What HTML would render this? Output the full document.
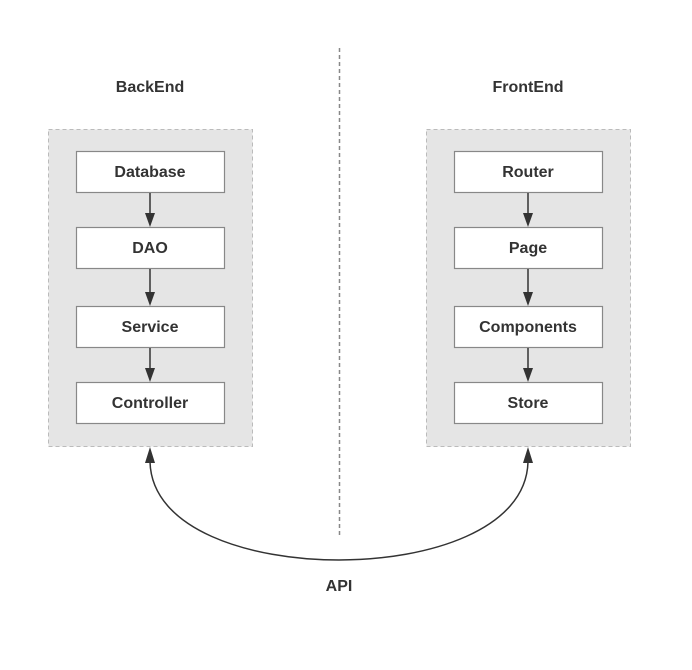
<!DOCTYPE html>
<html><head><style>body{margin:0;background:#fff}</style></head><body>
<svg width="692" height="665" xmlns="http://www.w3.org/2000/svg" font-family="Liberation Sans, sans-serif" font-weight="bold" font-size="16" fill="#333">
<rect width="692" height="665" fill="#fff"/>
<line x1="339.5" y1="48" x2="339.5" y2="535" stroke="#888" stroke-width="1.5" stroke-dasharray="4,3"/>
<text x="150" y="92" text-anchor="middle">BackEnd</text>
<text x="528" y="92" text-anchor="middle">FrontEnd</text>
<rect x="48.5" y="129.5" width="204" height="317" fill="#e5e5e5" stroke="#bbb" stroke-dasharray="4,3"/>
<rect x="426.5" y="129.5" width="204" height="317" fill="#e5e5e5" stroke="#bbb" stroke-dasharray="4,3"/>
<g stroke="#888" stroke-width="1.2" fill="#fff">
<rect x="76.5" y="151.5" width="148" height="41"/><rect x="76.5" y="227.5" width="148" height="41"/>
<rect x="76.5" y="306.5" width="148" height="41"/><rect x="76.5" y="382.5" width="148" height="41"/>
<rect x="454.5" y="151.5" width="148" height="41"/><rect x="454.5" y="227.5" width="148" height="41"/>
<rect x="454.5" y="306.5" width="148" height="41"/><rect x="454.5" y="382.5" width="148" height="41"/>
</g>
<g text-anchor="middle">
<text x="150" y="177">Database</text><text x="150" y="253">DAO</text>
<text x="150" y="332">Service</text><text x="150" y="408">Controller</text>
<text x="528" y="177">Router</text><text x="528" y="253">Page</text>
<text x="528" y="332">Components</text><text x="528" y="408">Store</text>
<text x="339" y="591">API</text>
</g>
<g stroke="#333" stroke-width="1.5">
<line x1="150" y1="193" x2="150" y2="215"/><line x1="150" y1="269" x2="150" y2="294"/><line x1="150" y1="348" x2="150" y2="370"/>
<line x1="528" y1="193" x2="528" y2="215"/><line x1="528" y1="269" x2="528" y2="294"/><line x1="528" y1="348" x2="528" y2="370"/>
</g>
<g fill="#333">
<path d="M145,213 L155,213 L150,227Z"/><path d="M145,292 L155,292 L150,306Z"/><path d="M145,368 L155,368 L150,382Z"/>
<path d="M523,213 L533,213 L528,227Z"/><path d="M523,292 L533,292 L528,306Z"/><path d="M523,368 L533,368 L528,382Z"/>
<path d="M145,463 L155,463 L150,447Z"/><path d="M523,463 L533,463 L528,447Z"/>
</g>
<path d="M150,462 C152,530 250,560 339,560 C428,560 526,530 528,462" fill="none" stroke="#333" stroke-width="1.5"/>
</svg>
</body></html>
